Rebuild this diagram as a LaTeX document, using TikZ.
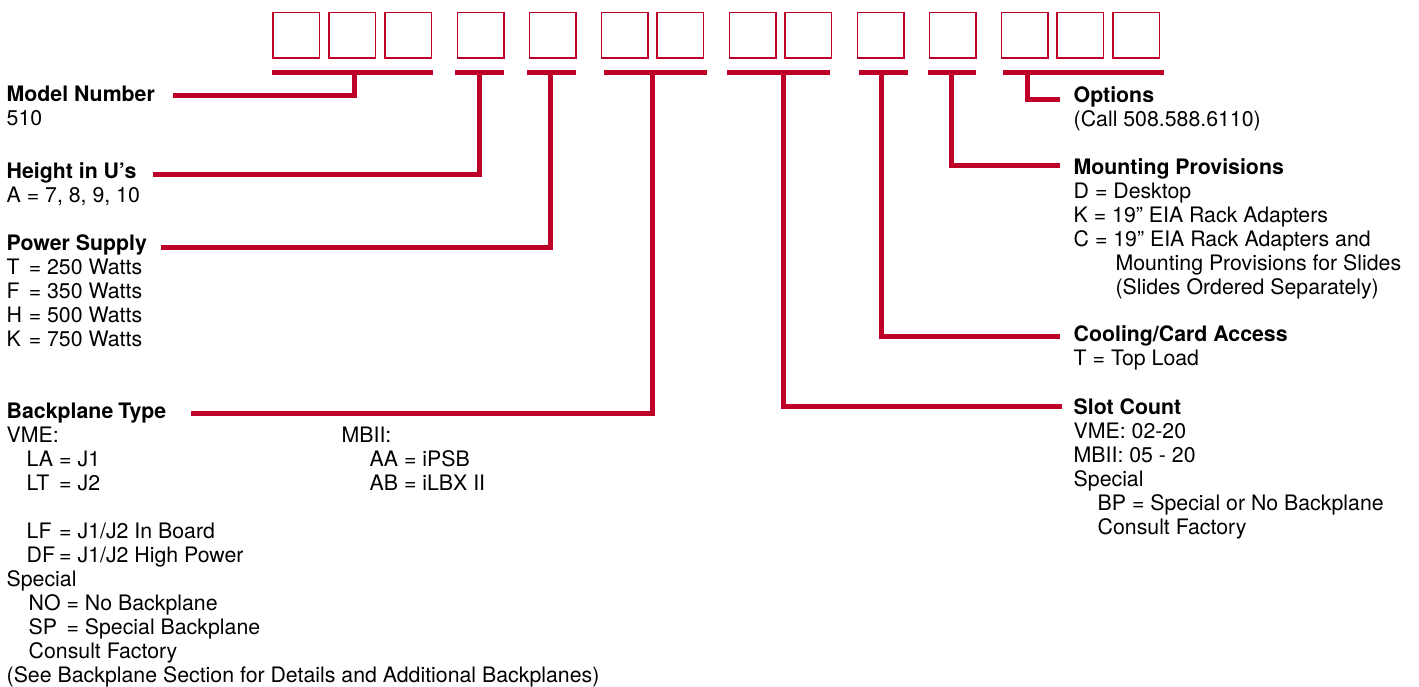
\documentclass[tikz,border=0pt]{standalone}
\usepackage{fontspec}
\setmainfont{TeX Gyre Heros}
\definecolor{rd}{RGB}{190,0,40}
\newcommand\pk[2]{\makebox[#1][l]{#2}}
\begin{document}
\begin{tikzpicture}[x=1pt,y=-1pt,
  cell/.style={draw=rd,line width=1.6pt,minimum width=46.4pt,minimum height=45.4pt,inner sep=0pt},
  barn/.style={fill=rd,minimum height=5pt,inner sep=0pt,outer sep=0pt},
  conn/.style={draw=rd,line width=5pt,line join=miter,line cap=butt},
  txt/.style={anchor=base west,inner sep=0pt,align=left,font=\fontsize{21.3}{24}\selectfont}]
\useasboundingbox (0,0) rectangle (1419,687);
% boxes
\foreach \i/\x in {1/296.3,2/352.3,3/408.3,4/480.7,5/552.7,6/624.7,7/680.3,8/752.7,9/808.3,10/880.7,11/952.7,12/1024.7,13/1080.3,14/1136.3}
  \node[cell] (b\i) at (\x,35.2) {};
% bars
\node[barn,minimum width=161pt] (bar1) at (352.5,72.5) {};
\node[barn,minimum width=49pt] (bar2) at (479.7,72.5) {};
\node[barn,minimum width=49pt] (bar3) at (551.5,72.5) {};
\node[barn,minimum width=103.5pt] (bar4) at (655.4,72.5) {};
\node[barn,minimum width=103pt] (bar5) at (778.2,72.5) {};
\node[barn,minimum width=49pt] (bar6) at (883.2,72.5) {};
\node[barn,minimum width=48.6pt] (bar7) at (952,72.5) {};
\node[barn,minimum width=161.6pt] (bar8) at (1083.5,72.5) {};
% stem tops
\coordinate (s1) at (354,72.5);
\coordinate (s2) at (479.2,72.5);
\coordinate (s3) at (550.8,72.5);
\coordinate (s4) at (652.5,72.5);
\coordinate (s5) at (783.5,72.5);
\coordinate (s6) at (881.7,72.5);
\coordinate (s7) at (951.5,72.5);
\coordinate (s8) at (1027,72.5);
% free ends
\coordinate (e1) at (173,95.2);
\coordinate (e2) at (153,175);
\coordinate (e3) at (161,247.5);
\coordinate (e4) at (191,413);
\coordinate (e5) at (1062,406);
\coordinate (e6) at (1059.5,336.7);
\coordinate (e7) at (1060,165.7);
\coordinate (e8) at (1060,99.7);
\foreach \k in {1,...,8} \draw[conn] (s\k) |- (e\k);
% left texts (anchor = baseline of the LAST line)
\node[txt] (model) at (6.5,125.8) {\textbf{Model Number}\\510};
\node[txt] (height) at (6.5,202.3) {\textbf{Height in U’s}\\A = 7, 8, 9, 10};
\node[txt] (power) at (6.5,346) {\textbf{Power Supply}\\
  \pk{0.76em}{T} = 250 Watts\\
  \pk{0.76em}{F} = 350 Watts\\
  \pk{0.76em}{H} = 500 Watts\\
  \pk{0.76em}{K} = 750 Watts};
\node[txt] (back) at (6.5,682.3) {\textbf{Backplane\kern-1pt\ Type}\\
  VME:\\
  \hspace*{20pt}\pk{1.25em}{LA} = J1\\
  \hspace*{20pt}\pk{1.25em}{LT} = J2\\
  \strut\\
  \hspace*{20pt}\pk{1.25em}{LF} = J1/J2 In Board\\
  \hspace*{20pt}\pk{1.25em}{DF} = J1/J2 High Power\\
  Special\\
  \hspace*{22pt}\pk{1.5em}{NO} = No Backplane\\
  \hspace*{22pt}\pk{1.5em}{SP} = Special Backplane\\
  \hspace*{22pt}Consult Factory\\
  (See Backplane Section for Details and Additional Backplanes)};
\node[txt] (mbii) at (341.5,490.3) {MBII:\\
  \hspace*{28pt}AA = iPSB\\
  \hspace*{28pt}AB = iLBX II};
% right texts
\node[txt] (options) at (1073.5,126.7) {\textbf{Options}\\(Call 508.588.6110)};
\node[txt] (mount) at (1073.5,294.3) {\textbf{Mounting Provisions}\\
  D = Desktop\\
  K = 19” EIA Rack Adapters\\
  C = 19” EIA Rack Adapters and\\
  \hspace*{41.8pt}Mounting Provisions for Slides\\
  \hspace*{41.8pt}(Slides Ordered Separately)};
\node[txt] (cool) at (1073.5,365.7) {\textbf{Cooling/Card Access}\\T = Top Load};
\node[txt] (slot) at (1073.5,534) {\textbf{Slot Count}\\
  VME: 02-20\\
  MBII: 05 - 20\\
  Special\\
  \hspace*{24pt}BP = Special or No Backplane\\
  \hspace*{24pt}Consult Factory};
\end{tikzpicture}
\end{document}
